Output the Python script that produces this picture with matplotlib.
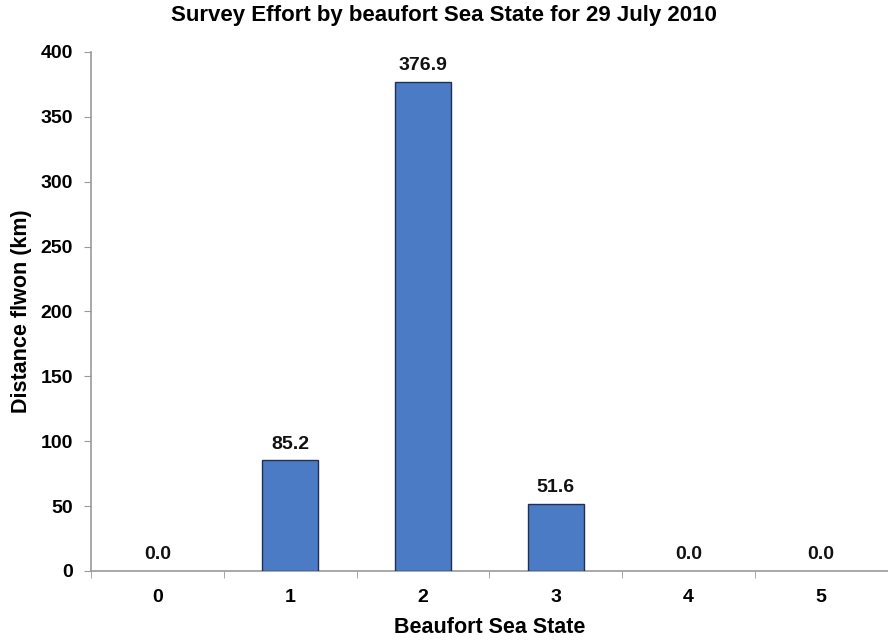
import matplotlib
matplotlib.use("Agg")
import matplotlib.pyplot as plt
import numpy as np

plt.rcParams["font.family"] = ["Liberation Sans", "DejaVu Sans"]
plt.rcParams["font.weight"] = "bold"

# data
sea_states = ["0", "1", "2", "3", "4", "5"]
distance_km = [0.0, 85.2, 376.9, 51.6, 0.0, 0.0]

fig = plt.figure(figsize=(8.88, 6.44), dpi=100)
ax = fig.add_axes([0.1025, 0.1134, 0.897, 0.806])

x = np.arange(len(sea_states))
bars = ax.bar(x, distance_km, width=0.42, color="#4a7bc4",
              edgecolor="#1f2f55", linewidth=1.0, zorder=3)
# empty categories show no outline
for b, v in zip(bars, distance_km):
    if v == 0:
        b.set_linewidth(0)

for xi, v in zip(x, distance_km):
    ax.text(xi, v + 6, f"{v:.1f}", ha="center", va="bottom",
            fontsize=14, fontweight="bold", color="#111111")

ax.set_xlim(-0.5, len(sea_states) - 0.5)
ax.set_ylim(0, 400)
ax.set_yticks(np.arange(0, 401, 50))

# category labels centered, ticks on the boundaries
ax.set_xticks(x)
ax.set_xticklabels(sea_states, fontsize=14, fontweight="bold")
ax.tick_params(axis="x", which="major", length=0, pad=13)
ax.set_xticks(np.arange(-0.5, len(sea_states)), minor=True)
ax.tick_params(axis="x", which="minor", length=5, color="#999999", direction="out")
ax.tick_params(axis="y", length=5, color="#999999", labelsize=14, pad=8)
for lab in ax.get_yticklabels():
    lab.set_fontweight("bold")

for side in ["top", "right"]:
    ax.spines[side].set_visible(False)
for side in ["left", "bottom"]:
    ax.spines[side].set_color("#999999")
    ax.spines[side].set_linewidth(1.2)

ax.set_xlabel("Beaufort Sea State", fontsize=15.5, fontweight="bold", labelpad=8)
ax.set_ylabel("Distance flwon (km)", fontsize=15.5, fontweight="bold", labelpad=6)
fig.suptitle("Survey Effort by beaufort Sea State for 29 July 2010",
             fontsize=16, fontweight="bold", y=0.992)

fig.savefig("out.png", dpi=100)
